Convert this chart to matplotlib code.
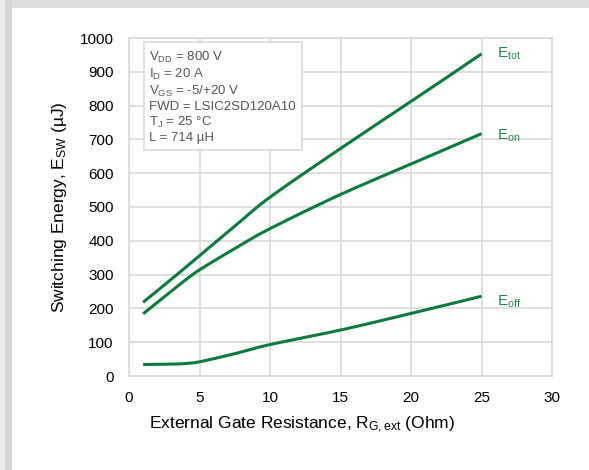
"""
Switching energy vs external gate resistance
"""

import numpy as np
import matplotlib
matplotlib.use("Agg")
import matplotlib.pyplot as plt
from matplotlib.patches import Rectangle

plt.rcParams["font.family"] = ["Liberation Sans", "DejaVu Sans"]
plt.rcParams["mathtext.fontset"] = "custom"
plt.rcParams["mathtext.rm"] = "Liberation Sans"
plt.rcParams["mathtext.it"] = "Liberation Sans:italic"

# Gate resistance (Ohm) and switching energies (uJ)
r_g = [1, 3, 4, 5, 7.5, 10, 15, 20, 25]
e_on = [184, 251, 284, 314, 377, 436, 537, 627, 717]
e_off = [34, 35, 37, 42, 66, 93, 136, 185, 236]
e_tot = [218, 286, 321, 356, 443, 529, 673, 812, 953]

conditions = [
    r"V$_{\mathrm{DD}}$ = 800 V",
    r"I$_{\mathrm{D}}$ = 20 A",
    r"V$_{\mathrm{GS}}$ = -5/+20 V",
    "FWD = LSIC2SD120A10",
    r"T$_{\mathrm{J}}$ = 25 °C",
    "L = 714 µH",
]

GREEN = "#0b7a3e"
LABEL_GREEN = "#1f8a4c"
GRID = "#d9d9d9"


def smooth(x, y, n=20):
    """Catmull-Rom curve through the given points (smoothed line rendering)."""
    x = np.asarray(x, float)
    y = np.asarray(y, float)
    px = np.concatenate([[2 * x[0] - x[1]], x, [2 * x[-1] - x[-2]]])
    py = np.concatenate([[2 * y[0] - y[1]], y, [2 * y[-1] - y[-2]]])
    t = np.linspace(0, 1, n, endpoint=False)
    xs, ys = [], []
    for i in range(1, len(px) - 2):
        for p, out in ((px, xs), (py, ys)):
            p0, p1, p2, p3 = p[i - 1:i + 3]
            out.extend(0.5 * (2 * p1 + (-p0 + p2) * t
                              + (2 * p0 - 5 * p1 + 4 * p2 - p3) * t ** 2
                              + (-p0 + 3 * p1 - 3 * p2 + p3) * t ** 3))
    xs.append(x[-1])
    ys.append(y[-1])
    return xs, ys


def plot_switching_energy():
    fig = plt.figure(figsize=(5.89, 4.70), dpi=100)

    # card edge at top and left
    fig.patches.append(Rectangle((0, 1 - 8 / 470), 1, 8 / 470, transform=fig.transFigure,
                                 facecolor="#dedede", edgecolor="none"))
    fig.patches.append(Rectangle((0, 0), 12 / 589, 1, transform=fig.transFigure,
                                 facecolor="#d6d6d6", edgecolor="none"))
    fig.patches.append(Rectangle((0, 0), 5 / 589, 1, transform=fig.transFigure,
                                 facecolor="#ececec", edgecolor="none"))

    ax = fig.add_axes([129 / 589, 1 - 376 / 470, 423 / 589, 338 / 470])

    for y in (e_tot, e_on, e_off):
        ax.plot(*smooth(r_g, y), color=GREEN, lw=2.2, solid_capstyle="butt")

    ax.set_xlim(0, 30)
    ax.set_ylim(0, 1000)
    ax.set_xticks(np.arange(0, 31, 5))
    ax.set_yticks(np.arange(0, 1001, 100))
    ax.tick_params(length=0, labelsize=11, pad=11)
    ax.grid(color=GRID, lw=1.2)
    ax.set_axisbelow(True)
    for s in ax.spines.values():
        s.set_color(GRID)
        s.set_linewidth(1.2)

    ax.set_xlabel(r"External Gate Resistance, R$_{\mathrm{G,ext}}$ (Ohm)", fontsize=12.5)
    ax.xaxis.set_label_coords(0.41, -0.115)
    ax.set_ylabel(r"Switching Energy, E$_{\mathrm{SW}}$ (µJ)", fontsize=12.5, labelpad=8)

    ax.text(26.1, e_tot[-1], r"E$_{\mathrm{tot}}$", color=LABEL_GREEN, fontsize=11, va="center")
    ax.text(26.1, e_on[-1] - 5, r"E$_{\mathrm{on}}$", color=LABEL_GREEN, fontsize=11, va="center")
    ax.text(26.1, e_off[-1] - 15, r"E$_{\mathrm{off}}$", color=LABEL_GREEN, fontsize=11, va="center")

    ax.text(1.45, 966, "\n".join(conditions), fontsize=9.5, color="#555555", va="top", ha="left",
            linespacing=1.2,
            bbox=dict(boxstyle="square,pad=0.45", facecolor="white", edgecolor=GRID, lw=1.2))

    fig.savefig("out.png", dpi=100)


if __name__ == "__main__":
    plot_switching_energy()
